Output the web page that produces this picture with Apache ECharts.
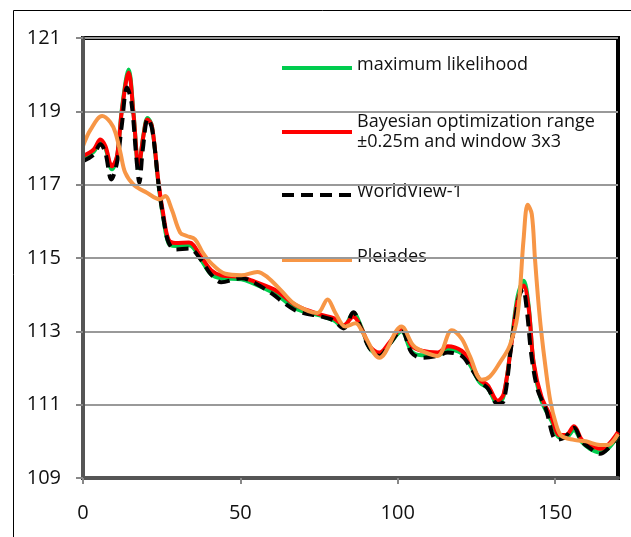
<!DOCTYPE html>
<html lang="en">
<head>
<meta charset="UTF-8">
<title>Elevation profile</title>
<script src="https://cdn.jsdelivr.net/npm/echarts@6/dist/echarts.min.js"></script>
<style>
  html, body { margin: 0; padding: 0; background: #fff; }
  #chart { width: 631px; height: 537px; }
</style>
</head>
<body>
<div id="chart"></div>
<script>
// maximum likelihood / Bayesian share the same sample positions
const mlX = [0, 3.4, 5.5, 7.1, 9.2, 10.8, 12.4, 14.5, 16.1, 17.7, 19.2, 20.5, 21.9, 24, 25.6, 27.2, 29.3, 33.7, 37.5, 40.7,
  43.9, 50.3, 53.5, 60.5, 63, 68.1, 75.8, 79.6, 82.8, 85.9, 88.5, 91, 94.2, 97.4, 101.2, 104.4, 107.6, 112.7, 115.9, 120.3,
  122.9, 126.1, 128.6, 131.8, 133.7, 136.2, 138.1, 140, 141.6, 143.2, 145.7, 148.9, 151.5, 153.4, 156, 158.5, 161, 164.3, 166.8, 170];
const mlY = [117.72, 117.9, 118.15, 118.0, 117.42, 117.75, 119.1, 120.14, 118.9, 117.45, 118.35, 118.82, 118.6, 117.0, 116.05, 115.4, 115.33, 115.35, 114.95, 114.55,
  114.45, 114.42, 114.33, 114.05, 113.9, 113.6, 113.42, 113.3, 113.12, 113.5, 113.1, 112.55, 112.35, 112.65, 113.0, 112.45, 112.35, 112.35, 112.5, 112.4,
  112.1, 111.6, 111.45, 111.02, 111.25, 112.75, 113.95, 114.38, 113.7, 112.1, 111.1, 110.55, 110.1, 110.1, 110.3, 109.98, 109.8, 109.7, 109.8, 110.15];
const boX = mlX;
const boY = [117.78, 117.96, 118.23, 118.05, 117.5, 117.78, 119.05, 120.06, 118.87, 117.5, 118.33, 118.78, 118.6, 117.05, 116.14, 115.5, 115.41, 115.42, 115.04, 114.67,
  114.53, 114.48, 114.39, 114.15, 114.01, 113.69, 113.45, 113.36, 113.17, 113.40, 113.08, 112.61, 112.42, 112.70, 113.08, 112.61, 112.47, 112.42, 112.59, 112.47,
  112.19, 111.68, 111.53, 111.11, 111.30, 112.70, 113.83, 114.25, 113.64, 112.14, 111.21, 110.64, 110.17, 110.17, 110.41, 110.04, 109.90, 109.80, 109.90, 110.25];
const wvX = [0, 3.4, 5.5, 7.1, 9, 10.8, 12.3, 14, 15.4, 17, 17.9, 19, 20.6, 22, 24.2, 25.8, 27.2, 29.3, 33.7, 37.5,
  40.7, 43.9, 50.3, 55, 60.5, 63, 68.1, 75.8, 79.6, 82.8, 85.9, 88.5, 91, 94.2, 97.4, 101.2, 104.4, 107.6, 112.7, 115.9,
  120.3, 122.9, 126.1, 128.6, 131.8, 133.7, 136, 138.5, 139.8, 141, 142.5, 144.5, 147, 150.5, 153, 156, 158.5, 161, 164.3, 166.8, 170];
const wvY = [117.64, 117.82, 118.1, 117.87, 117.14, 117.6, 118.6, 119.65, 119.24, 117.69, 117.05, 117.96, 118.8, 118.5, 116.87, 115.96, 115.42, 115.23, 115.26, 114.95,
  114.55, 114.34, 114.45, 114.3, 114.0, 113.83, 113.55, 113.4, 113.3, 113.08, 113.52, 113.05, 112.55, 112.33, 112.65, 113.03, 112.42, 112.28, 112.33, 112.42,
  112.33, 112.05, 111.63, 111.45, 111.02, 111.1, 112.53, 113.92, 114.15, 113.6, 112.33, 111.4, 110.9, 110.04, 110.1, 110.37, 110.0, 109.82, 109.66, 109.8, 110.15];
const plX = [0, 2.4, 6.1, 8.7, 10.3, 11.9, 13.4, 16.1, 20.3, 24.5, 26.1, 28.2, 30.9, 33, 35.6, 38.1, 40.7, 45.2, 50.3, 55.4,
  58.6, 63, 67.5, 74.5, 77.7, 80.2, 83.4, 86.6, 89.1, 94.2, 101.2, 105, 108.9, 112.7, 117.2, 120.3, 122.9, 126.7, 129.3, 132.4,
  135.6, 138.1, 140, 141.3, 142.6, 143.6, 144.6, 145.6, 147, 148.5, 150.2, 152, 156, 159.8, 164.3, 166.8, 170];
const plY = [118.05, 118.5, 118.87, 118.7, 118.42, 117.87, 117.33, 117.0, 116.78, 116.6, 116.69, 116.32, 115.69, 115.6, 115.51, 115.14, 114.86, 114.57, 114.53, 114.62,
  114.48, 114.11, 113.73, 113.5, 113.87, 113.5, 113.13, 113.22, 112.94, 112.28, 113.13, 112.61, 112.42, 112.33, 113.03, 112.8, 112.33, 111.68, 111.77, 112.14,
  112.61, 113.45, 115.51, 116.45, 116.2, 115.0, 113.9, 113.0, 112.0, 111.1, 110.5, 110.15, 110.04, 110.0, 109.9, 109.9, 110.2];

const names = ['maximum likelihood', 'Bayesian optimization range\n±0.25m and window 3x3', 'WorldView-1', 'Pleiades'];
const font = '"Open Sans", "Liberation Sans", sans-serif';

function pairs(xs, ys) { return xs.map((x, i) => [x, ys[i]]); }

function line(name, xs, ys, color, type) {
  return {
    name: name, type: 'line', data: pairs(xs, ys), smooth: 0.35,
    symbol: 'none', lineStyle: { color: color, width: 4, type: type || 'solid' },
    itemStyle: { color: color }
  };
}

// one legend per entry so each can sit where the source puts it;
// lift = how far the label sits above its line
function legendAt(name, top, lift) {
  return {
    data: [name], left: 280, top: top, orient: 'vertical', padding: 0,
    itemWidth: 70, itemHeight: 14, itemGap: 6, selectedMode: false,
    itemStyle: { opacity: 0 },
    lineStyle: { width: 4 },
    formatter: n => '{t|' + n + '}',
    textStyle: {
      fontFamily: font, fontSize: 18, color: '#111', lineHeight: 20,
      rich: { t: { fontFamily: font, fontSize: 18, color: '#111', lineHeight: 20, padding: [0, 0, lift, 0] } }
    }
  };
}

const chart = echarts.init(document.getElementById('chart'));
chart.setOption({
  animation: false,
  backgroundColor: '#fff',
  graphic: [
    { type: 'rect', shape: { x: 13.5, y: 10.5, width: 700, height: 600 },
      style: { fill: 'none', stroke: '#000', lineWidth: 1 }, z: -1 },
    // plot-area frame (thick black top/right like the source)
    { type: 'rect', shape: { x: 83, y: 38, width: 535, height: 440 },
      style: { fill: 'none', stroke: '#000', lineWidth: 4 }, z: 1 }
  ],
  grid: { left: 83, top: 38, right: 13, bottom: 59 },
  legend: [
    legendAt(names[0], 56, 6),
    legendAt(names[1], 112, 0),
    legendAt(names[2], 183, 6),
    legendAt(names[3], 248, 6)
  ],
  xAxis: {
    type: 'value', min: 0, max: 170, interval: 50,
    axisLine: { show: true, lineStyle: { color: '#555', width: 4 } },
    axisTick: { show: true, length: 6, lineStyle: { color: '#888', width: 2 } },
    axisLabel: { margin: 25, fontFamily: font, fontSize: 20, color: '#111', showMaxLabel: false },
    splitLine: { show: false },
    z: 5
  },
  yAxis: {
    type: 'value', min: 109, max: 121, interval: 2,
    axisLine: { show: true, lineStyle: { color: '#555', width: 4 } },
    axisTick: { show: true, length: 7, lineStyle: { color: '#888', width: 2 } },
    axisLabel: { margin: 22, fontFamily: font, fontSize: 20, color: '#111' },
    splitLine: { show: true, lineStyle: { color: '#999', width: 2 } },
    z: 5
  },
  series: [
    line(names[0], mlX, mlY, '#00cc4e'),
    line(names[1], boX, boY, '#ff0000'),
    line(names[2], wvX, wvY, '#000000', [12, 7]),
    line(names[3], plX, plY, '#f79646')
  ]
});
</script>
</body>
</html>
